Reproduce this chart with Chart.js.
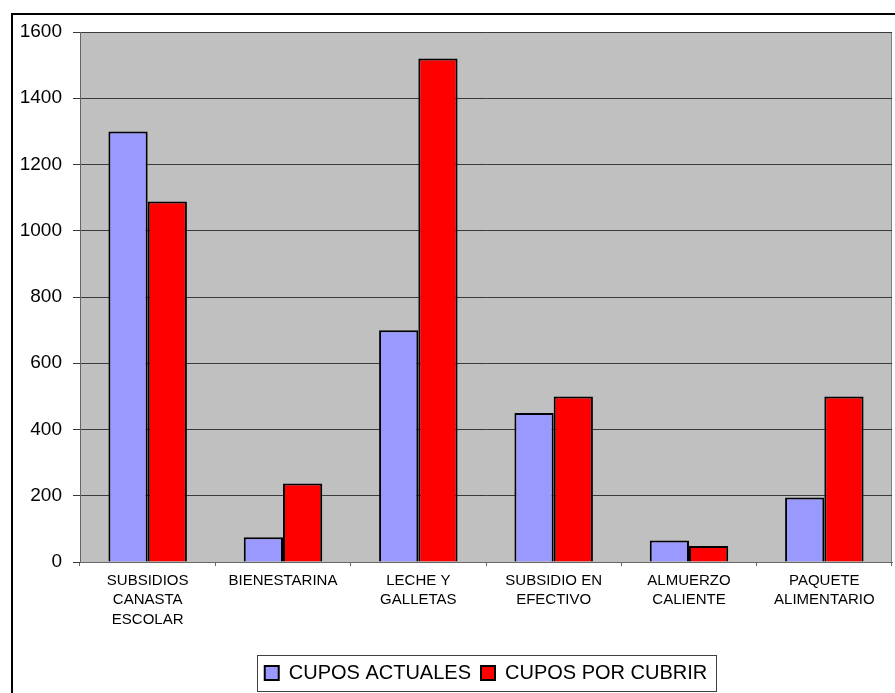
<!DOCTYPE html>
<html>
<head>
<meta charset="utf-8">
<script src="https://cdn.jsdelivr.net/npm/chart.js@4/dist/chart.umd.min.js"></script>
<style>
html,body{margin:0;padding:0;background:#fff;overflow:hidden;}
#wrap{position:absolute;left:0;top:0;width:895px;height:693px;}
</style>
</head>
<body>
<div id="wrap"><canvas id="c" width="895" height="693"></canvas></div>
<script>
const categories = [
  ["SUBSIDIOS", "CANASTA", "ESCOLAR"],
  ["BIENESTARINA"],
  ["LECHE Y", "GALLETAS"],
  ["SUBSIDIO EN", "EFECTIVO"],
  ["ALMUERZO", "CALIENTE"],
  ["PAQUETE", "ALIMENTARIO"]
];
const seriesNames = ["CUPOS ACTUALES", "CUPOS POR CUBRIR"];
const cuposActuales = [1300, 75, 700, 450, 65, 195];
const cuposPorCubrir = [1088, 237, 1520, 500, 48, 500];
const yTicks = [0, 200, 400, 600, 800, 1000, 1200, 1400, 1600];

const FONT = "'Liberation Sans', Arial, sans-serif";

const framePlugin = {
  id: 'frame',
  beforeDraw(chart) {
    const ctx = chart.ctx, a = chart.chartArea;
    ctx.save();
    ctx.fillStyle = '#fff';
    ctx.fillRect(0, 0, chart.width, chart.height);
    ctx.strokeStyle = '#000';
    ctx.lineWidth = 2;
    ctx.strokeRect(12, 14, chart.width + 20, chart.height + 20);
    ctx.fillStyle = '#C0C0C0';
    ctx.fillRect(a.left, a.top, a.right - a.left, a.bottom - a.top);
    ctx.strokeStyle = '#808080';
    ctx.lineWidth = 1;
    ctx.strokeRect(a.left + 0.5, a.top + 0.5, a.right - a.left - 1, a.bottom - a.top);
    ctx.restore();
  },
  afterDraw(chart) {
    const lg = chart.legend;
    if (!lg || !lg.legendHitBoxes || !lg.legendHitBoxes.length) return;
    const hb = lg.legendHitBoxes;
    const l = Math.min(...hb.map(h => h.left)) - 8;
    const r = Math.max(...hb.map(h => h.left + h.width)) + 8;
    const t = Math.min(...hb.map(h => h.top)) - 8;
    const b = Math.max(...hb.map(h => h.top + h.height)) + 8;
    const ctx = chart.ctx;
    ctx.save();
    ctx.strokeStyle = '#404040';
    ctx.lineWidth = 1;
    ctx.strokeRect(Math.round(l) + 0.5, Math.round(t) + 0.5, Math.round(r - l), Math.round(b - t));
    ctx.restore();
  }
};

new Chart(document.getElementById('c'), {
  type: 'bar',
  data: {
    labels: categories,
    datasets: [
      { label: seriesNames[0], data: cuposActuales, backgroundColor: '#9999FF', borderColor: '#000', borderWidth: 2 },
      { label: seriesNames[1], data: cuposPorCubrir, backgroundColor: '#FF0000', borderColor: '#000', borderWidth: 2 }
    ]
  },
  options: {
    responsive: false,
    animation: false,
    devicePixelRatio: 1,
    layout: { padding: { left: 0, right: 3, top: 32, bottom: 0 } },
    categoryPercentage: 0.58,
    barPercentage: 1.0,
    plugins: {
      tooltip: { enabled: false },
      legend: {
        position: 'bottom',
        fullSize: false,
        labels: {
          font: { family: FONT, size: 20 },
          color: '#000',
          boxWidth: 14,
          boxHeight: 14,
          padding: 10
        }
      }
    },
    scales: {
      x: {
        grid: { offset: true, drawOnChartArea: false, drawTicks: true, tickLength: 4, color: '#666' },
        border: { color: '#666', width: 1 },
        ticks: {
          font: { family: FONT, size: 15, lineHeight: 1.3 },
          color: '#000',
          padding: 5,
          maxRotation: 0,
          autoSkip: false
        },
        afterFit(scale) { scale.height = 91; }
      },
      y: {
        min: 0,
        max: 1600,
        afterBuildTicks(scale) { scale.ticks = yTicks.map(v => ({ value: v })); },
        grid: { color: '#3a3a3a', lineWidth: 1, drawTicks: true, tickLength: 7 },
        border: { color: '#666', width: 1 },
        ticks: {
          font: { family: FONT, size: 19 },
          color: '#000',
          padding: 11,
          callback: (v) => String(v)
        },
        afterFit(scale) { scale.width = 80; }
      }
    }
  },
  plugins: [framePlugin]
});
</script>
</body>
</html>
